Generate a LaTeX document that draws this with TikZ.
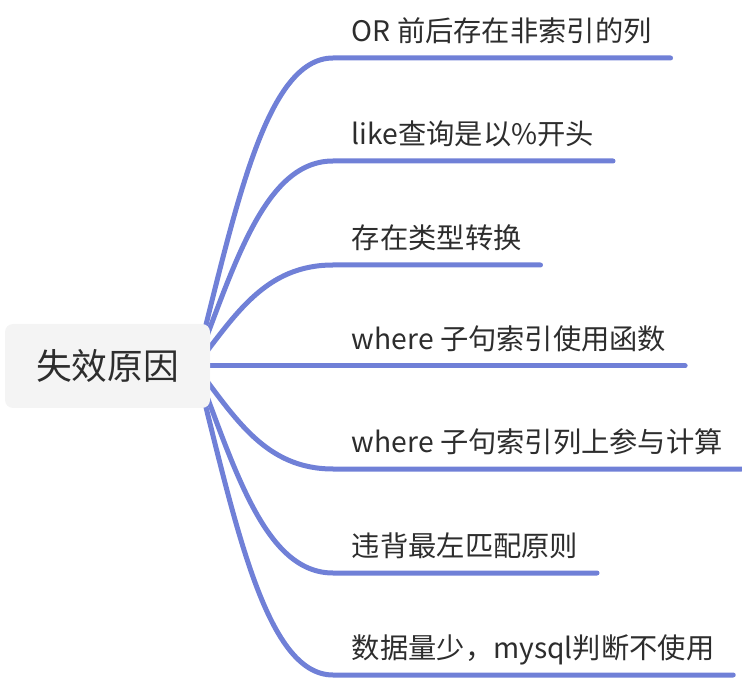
\documentclass[tikz,border=0pt]{standalone}
\usepackage{fontspec}
\setmainfont{Noto Sans CJK SC}
\usetikzlibrary{backgrounds}
\definecolor{branchblue}{RGB}{112,128,215}
\definecolor{rootgray}{RGB}{244,244,244}
\definecolor{textgray}{RGB}{45,45,45}
\tikzset{
  rootbox/.style={fill=rootgray, rounded corners=6pt, minimum width=153.75pt,
    minimum height=63pt, font=\fontsize{26.8}{30}\selectfont, text=textgray},
  branch/.style={anchor=south west, inner xsep=14pt, inner ysep=7pt,
    text height=17pt, text depth=5pt, font=\fontsize{21.2}{24}\selectfont, text=textgray},
  link/.style={draw=branchblue, line width=3.75pt, line cap=round}
}
\begin{document}
\begin{tikzpicture}[x=0.75pt,y=-0.75pt]
\useasboundingbox (0,0) rectangle (742,680);
\node[rootbox] (root) at (107.5,366) {失效原因};
\node[branch] (b1) at (333,58) {OR 前后存在非索引的列};
\node[branch] (b2) at (333,161) {like查询是以\%开头};
\node[branch] (b3) at (333,265) {存在类型转换};
\node[branch] (b4) at (333,366) {where 子句索引使用函数};
\node[branch] (b5) at (333,469) {where 子句索引列上参与计算};
\node[branch] (b6) at (333,573) {违背最左匹配原则};
\node[branch] (b7) at (333,675) {数据量少，mysql判断不使用};
\begin{scope}[on background layer]
\foreach \b/\y in {b1/58,b2/161,b3/265,b5/469,b6/573,b7/675}
  \draw[link] ([xshift=-11pt]root.east) .. controls (235,{366+0.5*(\y-366)}) and (265,\y) .. (\b.south west) -- (\b.south east);
\draw[link] (root.east) -- (b4.south west) -- (b4.south east);
\end{scope}
\end{tikzpicture}
\end{document}
